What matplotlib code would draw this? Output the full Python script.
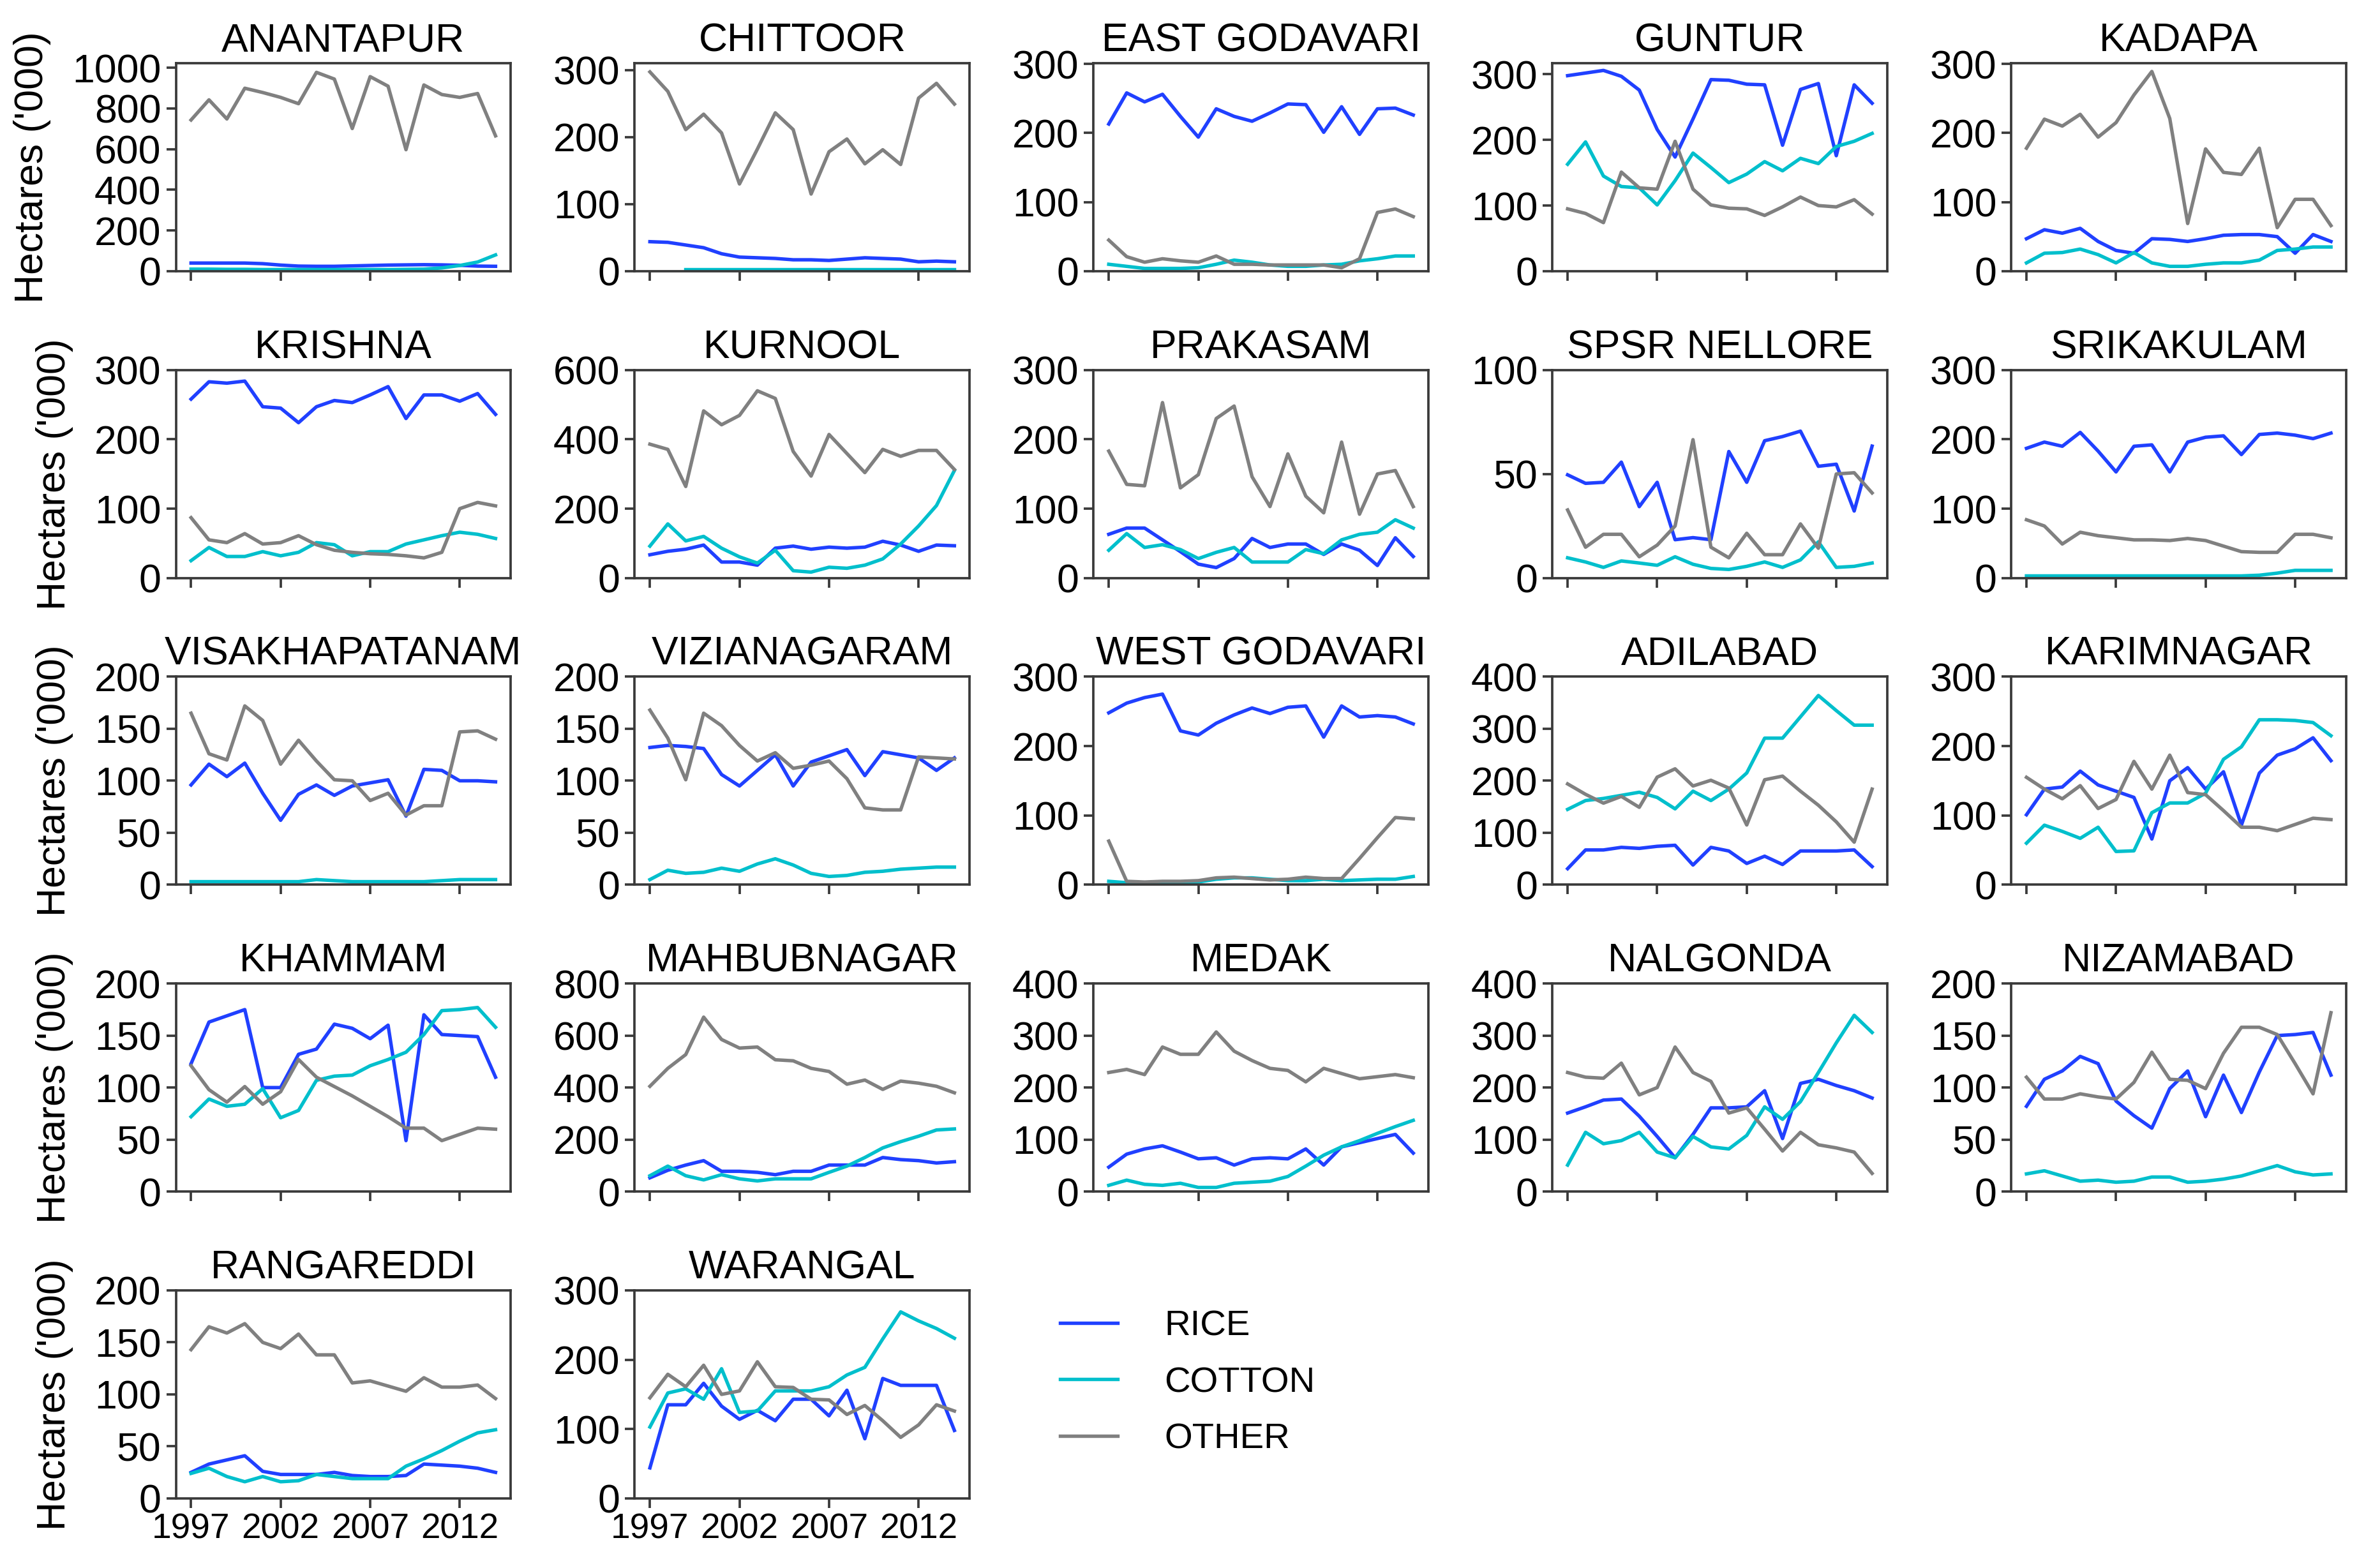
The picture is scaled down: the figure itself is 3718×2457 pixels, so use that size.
import matplotlib
matplotlib.use("Agg")
import matplotlib.pyplot as plt
from matplotlib.ticker import MultipleLocator
import numpy as np

plt.rcParams['font.family'] = ['Liberation Sans', 'DejaVu Sans']

years = [1997, 1998, 1999, 2000, 2001, 2002, 2003, 2004, 2005,
         2006, 2007, 2008, 2009, 2010, 2011, 2012, 2013, 2014]

districts = ["ANANTAPUR", "CHITTOOR", "EAST GODAVARI", "GUNTUR", "KADAPA",
             "KRISHNA", "KURNOOL", "PRAKASAM", "SPSR NELLORE", "SRIKAKULAM",
             "VISAKHAPATANAM", "VIZIANAGARAM", "WEST GODAVARI", "ADILABAD", "KARIMNAGAR",
             "KHAMMAM", "MAHBUBNAGAR", "MEDAK", "NALGONDA", "NIZAMABAD",
             "RANGAREDDI", "WARANGAL"]

nan = np.nan

# hectares ('000)
rice = {
    "ANANTAPUR": [40, 40, 40, 40, 37, 30, 25, 24, 24, 26, 28, 30, 31, 32, 31, 29, 25, 24],
    "CHITTOOR": [44, 43, 39, 35, 26, 21, 20, 19, 17, 17, 16, 18, 20, 19, 18, 14, 15, 14],
    "EAST GODAVARI": [213, 258, 245, 256, 224, 194, 235, 224, 217, 229, 242, 241, 201, 238, 198, 235, 236, 226],
    "GUNTUR": [298, 302, 306, 297, 276, 216, 174, 232, 292, 291, 285, 284, 192, 277, 286, 176, 284, 256],
    "KADAPA": [47, 60, 55, 62, 43, 30, 26, 47, 46, 43, 47, 52, 53, 53, 50, 26, 53, 43],
    "KRISHNA": [258, 283, 281, 284, 247, 245, 224, 247, 256, 253, 264, 276, 230, 264, 264, 255, 266, 236],
    "KURNOOL": [67, 77, 83, 95, 46, 46, 37, 86, 92, 83, 89, 86, 89, 106, 95, 77, 95, 93],
    "PRAKASAM": [63, 72, 72, 55, 38, 20, 15, 28, 57, 44, 49, 49, 34, 49, 40, 18, 58, 31],
    "SPSR NELLORE": [49.6, 45.5, 46, 55.7, 34.3, 46, 18.4, 19.4, 18.4, 60.8, 46, 66, 68, 70.6, 53.7, 54.7, 32.2, 63.4],
    "SRIKAKULAM": [187, 196, 190, 210, 183, 153, 190, 192, 153, 196, 203, 205, 178, 207, 209, 206, 201, 209],
    "VISAKHAPATANAM": [96, 116, 104, 117, 88, 62, 87, 96, 86, 95, 98, 101, 66, 111, 110, 100, 100, 99],
    "VIZIANAGARAM": [132, 134, 133, 131, 106, 95, 110, 125, 95, 118, 124, 130, 105, 128, 125, 122, 110, 122],
    "WEST GODAVARI": [248, 262, 270, 275, 222, 216, 233, 245, 255, 247, 256, 258, 213, 258, 242, 244, 242, 232],
    "ADILABAD": [31, 67, 67, 72, 70, 74, 76, 38, 72, 65, 41, 55, 39, 65, 65, 65, 67, 35],
    "KARIMNAGAR": [101, 138, 141, 164, 144, 135, 126, 66, 150, 169, 138, 163, 86, 161, 187, 196, 212, 179],
    "KHAMMAM": [123, 163, 169, 175, 100, 100, 132, 137, 161, 157, 147, 160, 49, 170, 151, 150, 149, 110],
    "MAHBUBNAGAR": [53, 82, 102, 119, 78, 78, 74, 65, 78, 78, 102, 102, 102, 131, 123, 119, 110, 115],
    "MEDAK": [47, 72, 82, 88, 76, 63, 65, 51, 63, 65, 63, 82, 51, 86, 94, 102, 110, 74],
    "NALGONDA": [151, 163, 176, 178, 145, 106, 65, 110, 161, 161, 163, 194, 102, 208, 216, 204, 194, 180],
    "NIZAMABAD": [82, 108, 116, 130, 123, 87, 73, 61, 99, 116, 72, 112, 76, 115, 150, 151, 153, 112],
    "RANGAREDDI": [25, 33, 37, 41, 26, 23, 23, 23, 25, 22, 21, 21, 22, 33, 32, 31, 29, 25],
    "WARANGAL": [44, 135, 135, 166, 133, 114, 127, 112, 143, 143, 119, 156, 86, 173, 163, 163, 163, 98],
}

cotton = {
    "ANANTAPUR": [10, 10, 9, 9, 8, 8, 8, 8, 8, 8, 8, 8, 9, 10, 16, 28, 45, 80],
    "CHITTOOR": [nan, nan, 3, 3, 3, 3, 3, 3, 3, 3, 3, 3, 3, 3, 3, 3, 3, 3],
    "EAST GODAVARI": [10, 7, 4, 4, 4, 5, 10, 16, 13, 9, 7, 7, 9, 10, 15, 18, 22, 22],
    "GUNTUR": [163, 197, 145, 129, 127, 101, 138, 180, 158, 135, 148, 167, 153, 172, 164, 190, 198, 210],
    "KADAPA": [12, 26, 27, 32, 24, 12, 27, 12, 7, 7, 10, 12, 12, 16, 30, 32, 35, 35],
    "KRISHNA": [25, 44, 31, 31, 38, 32, 37, 51, 48, 32, 38, 38, 49, 55, 61, 66, 63, 57],
    "KURNOOL": [92, 156, 107, 120, 86, 61, 43, 80, 21, 17, 31, 28, 37, 55, 98, 150, 209, 310],
    "PRAKASAM": [40, 64, 44, 48, 41, 28, 37, 44, 23, 23, 23, 41, 35, 55, 63, 66, 84, 72],
    "SPSR NELLORE": [9.7, 7.7, 5.1, 8.2, 7.2, 6.1, 10.2, 6.6, 4.6, 4.1, 5.6, 7.7, 5.1, 8.7, 17.4, 5.1, 5.6, 7.2],
    "SRIKAKULAM": [3, 3, 3, 3, 3, 3, 3, 3, 3, 3, 3, 3, 3, 4, 7, 11, 11, 11],
    "VISAKHAPATANAM": [3, 3, 3, 3, 3, 3, 3, 5, 4, 3, 3, 3, 3, 3, 4, 5, 5, 5],
    "VIZIANAGARAM": [5, 14, 11, 12, 16, 13, 20, 25, 19, 11, 8, 9, 12, 13, 15, 16, 17, 17],
    "WEST GODAVARI": [5, 3, 3, 3, 3, 4, 8, 10, 10, 8, 6, 6, 8, 6, 7, 8, 8, 12],
    "ADILABAD": [145, 162, 166, 172, 178, 168, 146, 180, 162, 184, 215, 282, 282, 323, 364, 335, 307, 307],
    "KARIMNAGAR": [60, 86, 77, 67, 83, 48, 49, 104, 118, 118, 132, 181, 199, 238, 238, 237, 234, 215],
    "KHAMMAM": [72, 89, 82, 84, 99, 71, 78, 107, 111, 112, 121, 127, 134, 151, 174, 175, 177, 158],
    "MAHBUBNAGAR": [61, 98, 61, 45, 65, 49, 41, 49, 49, 49, 74, 98, 131, 168, 192, 213, 237, 241],
    "MEDAK": [12, 22, 14, 12, 16, 8, 8, 16, 18, 20, 29, 49, 70, 86, 98, 112, 125, 137],
    "NALGONDA": [51, 114, 92, 98, 114, 76, 65, 106, 86, 82, 108, 163, 139, 173, 229, 286, 339, 306],
    "NIZAMABAD": [17, 20, 15, 10, 11, 9, 10, 14, 14, 9, 10, 12, 15, 20, 25, 19, 16, 17],
    "RANGAREDDI": [24, 29, 21, 16, 21, 16, 17, 23, 21, 19, 19, 19, 31, 38, 46, 55, 63, 66],
    "WARANGAL": [103, 152, 158, 143, 187, 124, 126, 155, 155, 155, 161, 178, 189, 230, 269, 256, 245, 231],
}

other = {
    "ANANTAPUR": [743, 842, 748, 899, 878, 854, 823, 977, 944, 701, 956, 909, 597, 915, 868, 854, 873, 665],
    "CHITTOOR": [297, 268, 211, 234, 206, 130, 182, 236, 211, 115, 178, 197, 160, 181, 159, 258, 280, 249],
    "EAST GODAVARI": [45, 21, 13, 18, 15, 13, 22, 10, 10, 9, 9, 9, 9, 5, 18, 85, 90, 79],
    "GUNTUR": [95, 88, 74, 151, 127, 125, 198, 125, 101, 96, 95, 85, 98, 113, 100, 98, 109, 87],
    "KADAPA": [178, 220, 210, 227, 194, 215, 255, 289, 221, 69, 177, 143, 140, 178, 63, 104, 104, 66],
    "KRISHNA": [87, 55, 51, 64, 49, 51, 61, 48, 40, 37, 35, 34, 32, 29, 37, 100, 109, 104],
    "KURNOOL": [386, 371, 264, 482, 442, 469, 540, 518, 365, 294, 414, 359, 304, 371, 351, 368, 368, 313],
    "PRAKASAM": [183, 135, 133, 253, 130, 149, 230, 248, 146, 103, 179, 118, 94, 196, 92, 150, 155, 103],
    "SPSR NELLORE": [32.7, 14.8, 21, 21, 10.2, 15.8, 25, 66.5, 14.8, 9.7, 21.5, 11.2, 11.2, 26, 14.3, 50, 50.6, 40.9],
    "SRIKAKULAM": [84, 75, 49, 66, 61, 58, 55, 55, 54, 57, 54, 46, 38, 37, 37, 63, 63, 58],
    "VISAKHAPATANAM": [165, 126, 120, 172, 158, 116, 139, 119, 101, 100, 81, 88, 67, 76, 76, 147, 148, 140],
    "VIZIANAGARAM": [168, 141, 101, 165, 153, 134, 119, 127, 112, 115, 119, 102, 74, 72, 72, 123, 122, 121],
    "WEST GODAVARI": [63, 5, 4, 5, 5, 6, 10, 11, 9, 7, 8, 11, 9, 9, 38, 68, 97, 95],
    "ADILABAD": [194, 174, 157, 170, 149, 207, 223, 190, 201, 186, 115, 202, 209, 180, 153, 121, 82, 184],
    "KARIMNAGAR": [155, 138, 124, 143, 110, 123, 178, 138, 187, 133, 130, 107, 83, 83, 78, 87, 96, 94],
    "KHAMMAM": [121, 98, 86, 101, 84, 96, 127, 110, 101, 92, 82, 72, 61, 61, 49, 55, 61, 60],
    "MAHBUBNAGAR": [405, 474, 527, 671, 585, 552, 556, 507, 503, 474, 462, 413, 429, 393, 425, 417, 405, 380],
    "MEDAK": [229, 235, 225, 278, 264, 264, 307, 270, 252, 237, 233, 211, 237, 227, 217, 221, 225, 219],
    "NALGONDA": [229, 220, 218, 247, 186, 200, 278, 229, 212, 151, 161, 120, 78, 114, 90, 84, 76, 35],
    "NIZAMABAD": [110, 89, 89, 94, 91, 89, 105, 134, 108, 107, 99, 133, 158, 158, 151, 123, 94, 172],
    "RANGAREDDI": [143, 165, 159, 168, 150, 144, 158, 138, 138, 111, 113, 108, 103, 116, 107, 107, 109, 96],
    "WARANGAL": [145, 179, 161, 192, 150, 155, 197, 161, 160, 143, 142, 121, 134, 112, 88, 106, 135, 126],
}

# axis layout per panel: (y top, tick step)
yaxis = {
    "ANANTAPUR": (1022, 200), "CHITTOOR": (310, 100), "EAST GODAVARI": (301, 100),
    "GUNTUR": (317, 100), "KADAPA": (301, 100),
    "KRISHNA": (300, 100), "KURNOOL": (600, 200), "PRAKASAM": (300, 100),
    "SPSR NELLORE": (100, 50), "SRIKAKULAM": (300, 100),
    "VISAKHAPATANAM": (200, 50), "VIZIANAGARAM": (200, 50), "WEST GODAVARI": (300, 100),
    "ADILABAD": (400, 100), "KARIMNAGAR": (300, 100),
    "KHAMMAM": (200, 50), "MAHBUBNAGAR": (800, 200), "MEDAK": (400, 100),
    "NALGONDA": (400, 100), "NIZAMABAD": (200, 50),
    "RANGAREDDI": (200, 50), "WARANGAL": (300, 100),
}

c_rice = '#2040ff'
c_cotton = '#00bfcc'
c_other = '#808080'
spine_c = '#3a3a3a'

fig = plt.figure(figsize=(3718/300, 2457/300), dpi=300)
gs = fig.add_gridspec(5, 5, left=0.0741, right=0.9887, top=0.9597, bottom=0.0444,
                      wspace=0.37, hspace=0.475)

for i, d in enumerate(districts):
    r, c = divmod(i, 5)
    ax = fig.add_subplot(gs[r, c])
    l1, = ax.plot(years, rice[d], color=c_rice, lw=1.3)
    l2, = ax.plot(years, cotton[d], color=c_cotton, lw=1.3)
    l3, = ax.plot(years, other[d], color=c_other, lw=1.3)
    top, step = yaxis[d]
    ax.set_ylim(0, top)
    ax.yaxis.set_major_locator(MultipleLocator(step))
    ax.set_xticks([1997, 2002, 2007, 2012])
    if r < 4:
        ax.set_xticklabels([])
    ax.set_title(d, fontsize=15, pad=4.5)
    for s in ax.spines.values():
        s.set_color(spine_c)
        s.set_linewidth(0.9)
    ax.tick_params(direction='out', length=3.5, width=0.9, color=spine_c,
                   labelsize=15, pad=2)
    ax.tick_params(axis='x', labelsize=13.2)
    if c == 0:
        ax.set_ylabel("Hectares ('000)", fontsize=15, labelpad=8)

fig.legend([l1, l2, l3], ["RICE", "COTTON", "OTHER"], loc='center left',
           bbox_to_anchor=(1661/3718, 1 - 2167/2457), frameon=False, fontsize=13.5,
           handlelength=1.6, handletextpad=1.3, labelspacing=0.65,
           borderpad=0, borderaxespad=0)

fig.savefig("out.png", dpi=300)
